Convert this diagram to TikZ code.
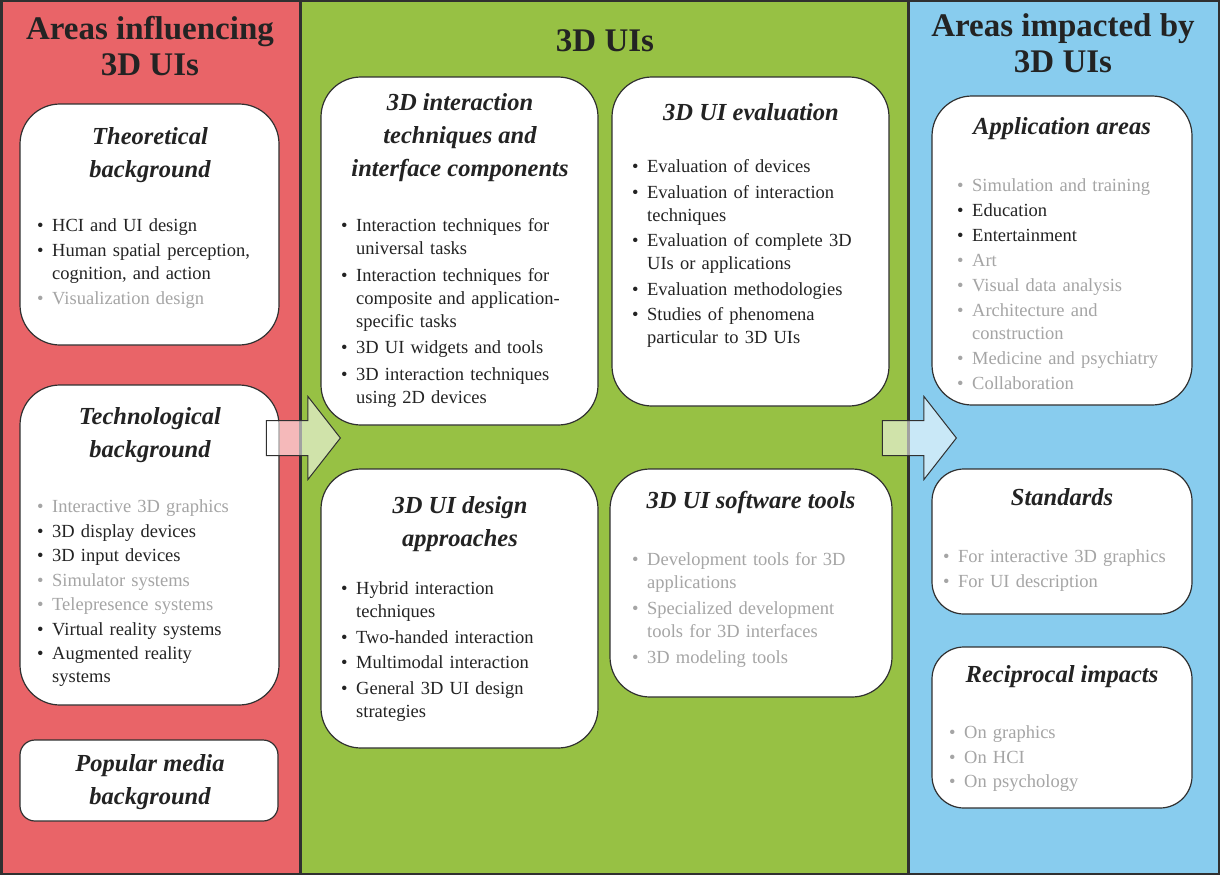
\documentclass[tikz,border=0pt]{standalone}
\usepackage{fontspec}
\setmainfont{Liberation Serif}
\usetikzlibrary{shapes.arrows}

\definecolor{panelred}{RGB}{233,100,104}
\definecolor{panelgreen}{RGB}{151,193,68}
\definecolor{panelblue}{RGB}{136,204,238}
\definecolor{edgedark}{RGB}{48,48,48}
\definecolor{textdark}{RGB}{35,35,35}
\definecolor{textpale}{RGB}{165,165,165}

% bullet items, dark and pale (\\ breaks inside the item)
\newcommand\darkitem[1]{\par\hangindent=15pt\hangafter=1\noindent
  \makebox[15pt][l]{\textbullet}{\let\\\newline#1}}
\newcommand\paleitem[1]{\par\hangindent=15pt\hangafter=1\noindent
  {\color{textpale}\makebox[15pt][l]{\textbullet}\let\\\newline#1}}

\begin{document}
\begin{tikzpicture}[
    x=1pt, y=-1pt,
    % rounded white topic box
    topic box/.style={
        rectangle, rounded corners=40pt,
        draw=edgedark, fill=white, line width=1.2pt,
        inner sep=0pt
    },
    % area title on the coloured panels
    area title/.style={
        font=\fontsize{33}{36}\selectfont\bfseries,
        text=textdark, align=center
    },
    % heading inside a topic box
    topic head/.style={
        font=\fontsize{24.5}{33}\selectfont\bfseries\itshape,
        text=textdark, align=center
    },
    % bullet list inside a topic box, #1 = gap between items
    topic list/.style={
        anchor=north west, inner sep=0pt, text width=250pt, align=left,
        font=\fontsize{18.5}{23}\selectfont\setlength{\parskip}{#1},
        text=textdark
    },
    topic list/.default=1.5pt,
    % block arrow between the panels
    flow arrow/.style={
        single arrow, draw=edgedark, line width=1pt,
        fill=white, fill opacity=0.55,
        single arrow head extend=24pt, single arrow tip angle=104,
        inner sep=17pt, minimum height=74pt, anchor=tip
    }
]
\useasboundingbox (0,0) rectangle (1220,875);

% --- Panels ---
\fill[panelred] (0,0) rectangle (300,875);
\fill[panelgreen] (300,0) rectangle (908,875);
\fill[panelblue] (908,0) rectangle (1220,875);
\draw[edgedark, line width=3pt] (300,0) -- (300,875);
\draw[edgedark, line width=3pt] (908,0) -- (908,875);
\draw[edgedark, line width=2.5pt] (1.25,1.25) rectangle (1218.75,873.75);

% --- Area titles ---
\node[area title] (influence) at (150,46) {Areas influencing\\3D UIs};
\node[area title] (core) at (605,41) {3D UIs};
\node[area title] (impact) at (1063,43) {Areas impacted by\\3D UIs};

% --- Left column ---
\node[topic box, minimum width=259pt, minimum height=241pt] (theo) at (149.5,224.5) {};
\node[topic head] (theohead) at (150,155) {Theoretical\\background};
\node[topic list=2pt] (theolist) at (37,206) {%
  \darkitem{HCI and UI design}
  \darkitem{Human spatial perception,\\cognition, and action}
  \paleitem{Visualization design}\par};

\node[topic box, minimum width=259pt, minimum height=320pt] (tech) at (149.5,545) {};
\node[topic head] (techhead) at (150,435) {Technological\\background};
\node[topic list] (techlist) at (37,488) {%
  \paleitem{Interactive 3D graphics}
  \darkitem{3D display devices}
  \darkitem{3D input devices}
  \paleitem{Simulator systems}
  \paleitem{Telepresence systems}
  \darkitem{Virtual reality systems}
  \darkitem{Augmented reality\\systems}\par};

\node[topic box, rounded corners=15pt, minimum width=258pt, minimum height=81pt] (popm) at (149,780.5) {};
\node[topic head] (popmhead) at (150,782) {Popular media\\background};

% --- Middle column ---
\node[topic box, minimum width=277pt, minimum height=348pt] (inter) at (459.5,251) {};
\node[topic head] (interhead) at (460,138) {3D interaction\\techniques and\\interface components};
\node[topic list=3.5pt] (interlist) at (341,205) {%
  \darkitem{Interaction techniques for\\universal tasks}
  \darkitem{Interaction techniques for\\composite and application-\\specific tasks}
  \darkitem{3D UI widgets and tools}
  \darkitem{3D interaction techniques\\using 2D devices}\par};

\node[topic box, minimum width=277pt, minimum height=329pt] (eval) at (750.5,241.5) {};
\node[topic head] (evalhead) at (751,112) {3D UI evaluation};
\node[topic list=2.5pt] (evallist) at (632,147) {%
  \darkitem{Evaluation of devices}
  \darkitem{Evaluation of interaction\\techniques}
  \darkitem{Evaluation of complete 3D\\UIs or applications}
  \darkitem{Evaluation methodologies}
  \darkitem{Studies of phenomena\\particular to 3D UIs}\par};

\node[topic box, minimum width=277pt, minimum height=279pt] (design) at (459.5,608.5) {};
\node[topic head] (designhead) at (460,524) {3D UI design\\approaches};
\node[topic list=2.5pt] (designlist) at (341,569) {%
  \darkitem{Hybrid interaction\\techniques}
  \darkitem{Two-handed interaction}
  \darkitem{Multimodal interaction}
  \darkitem{General 3D UI design\\strategies}\par};

\node[topic box, minimum width=282pt, minimum height=228pt] (soft) at (751,583) {};
\node[topic head] (softhead) at (751,502) {3D UI software tools};
\node[topic list=3pt] (softlist) at (632,539) {%
  \paleitem{Development tools for 3D\\applications}
  \paleitem{Specialized development\\tools for 3D interfaces}
  \paleitem{3D modeling tools}\par};

% --- Right column ---
\node[topic box, minimum width=260pt, minimum height=309pt] (appl) at (1062,250.5) {};
\node[topic head] (applhead) at (1062,129) {Application areas};
\node[topic list=2pt] (appllist) at (957,166) {%
  \paleitem{Simulation and training}
  \darkitem{Education}
  \darkitem{Entertainment}
  \paleitem{Art}
  \paleitem{Visual data analysis}
  \paleitem{Architecture and\\construction}
  \paleitem{Medicine and psychiatry}
  \paleitem{Collaboration}\par};

\node[topic box, rounded corners=32pt, minimum width=260pt, minimum height=145pt] (stand) at (1062,541.5) {};
\node[topic head] (standhead) at (1062,497) {Standards};
\node[topic list] (standlist) at (943,538) {%
  \paleitem{For interactive 3D graphics}
  \paleitem{For UI description}\par};

\node[topic box, rounded corners=32pt, minimum width=260pt, minimum height=161pt] (recip) at (1062,727.5) {};
\node[topic head] (reciphead) at (1062,677) {Reciprocal impacts};
\node[topic list] (reciplist) at (949,714) {%
  \paleitem{On graphics}
  \paleitem{On HCI}
  \paleitem{On psychology}\par};

% --- Flow arrows ---
\node[flow arrow] (arrowin) at (341,438) {};
\node[flow arrow] (arrowout) at (957,438) {};

\end{tikzpicture}
\end{document}
